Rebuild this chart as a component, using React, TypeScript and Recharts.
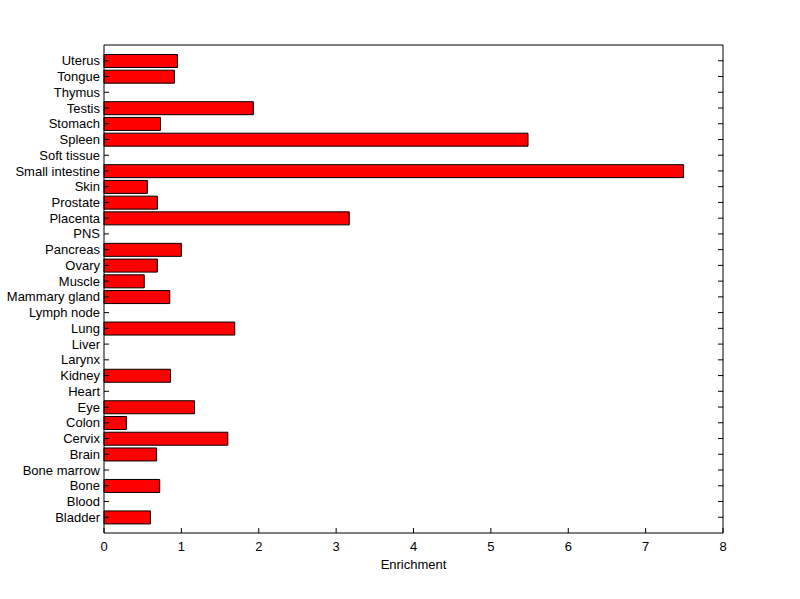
import { BarChart, Bar, XAxis, YAxis } from 'recharts';

const tissues = [
  'Uterus', 'Tongue', 'Thymus', 'Testis', 'Stomach', 'Spleen', 'Soft tissue',
  'Small intestine', 'Skin', 'Prostate', 'Placenta', 'PNS', 'Pancreas', 'Ovary',
  'Muscle', 'Mammary gland', 'Lymph node', 'Lung', 'Liver', 'Larynx', 'Kidney',
  'Heart', 'Eye', 'Colon', 'Cervix', 'Brain', 'Bone marrow', 'Bone', 'Blood', 'Bladder',
];

const enrichment = [
  0.95, 0.91, 0, 1.93, 0.73, 5.48, 0,
  7.49, 0.56, 0.69, 3.17, 0, 1.0, 0.69,
  0.52, 0.85, 0, 1.69, 0, 0, 0.86,
  0, 1.17, 0.29, 1.6, 0.68, 0, 0.72, 0, 0.6,
];

const xTicks = [0, 1, 2, 3, 4, 5, 6, 7, 8];

const data = tissues.map((name, i) => ({ name, value: enrichment[i] }));

const FONT = '"Liberation Sans", Arial, sans-serif';
const TICK = 5;
// half a category step of empty space at each end of the y axis
const Y_PAD = { top: 7.9, bottom: 7.9 };

const LeftTick = ({ x, y, payload }: any) => (
  <g>
    <line x1={x + 4} x2={x + 4 + TICK} y1={y} y2={y} stroke="#000" />
    <text x={x} y={y} dy="0.35em" textAnchor="end" fontSize={13} fontFamily={FONT} fill="#000">
      {payload.value}
    </text>
  </g>
);

const RightTick = ({ x, y }: any) => (
  <line x1={x} x2={x - TICK} y1={y} y2={y} stroke="#000" />
);

const BottomTick = ({ x, y, payload }: any) => (
  <g>
    <line x1={x} x2={x} y1={y - 9} y2={y - 9 - TICK} stroke="#000" />
    <text x={x} y={y} dy="0.71em" textAnchor="middle" fontSize={13} fontFamily={FONT} fill="#000">
      {payload.value}
    </text>
  </g>
);

const TopTick = ({ x, y }: any) => (
  <line x1={x} x2={x} y1={y} y2={y + TICK} stroke="#000" />
);

export default function App() {
  return (
    <div style={{ position: 'absolute', left: 0, top: 0, background: '#fff' }}>
      <BarChart
        width={800}
        height={599}
        data={data}
        layout="vertical"
        barCategoryGap="10%"
        margin={{ top: 44, right: 76, bottom: 26, left: 0 }}
      >
        <XAxis
          type="number"
          domain={[0, 8]}
          ticks={xTicks}
          height={40}
          stroke="#000"
          tickLine={false}
          tickSize={0}
          tickMargin={9}
          tick={<BottomTick />}
          label={{ value: 'Enrichment', position: 'insideBottom', offset: 4, fill: '#000', fontSize: 13, fontFamily: FONT }}
        />
        <XAxis
          xAxisId="top"
          orientation="top"
          type="number"
          domain={[0, 8]}
          ticks={xTicks}
          height={1}
          stroke="#000"
          tickLine={false}
          tickSize={0}
          tickMargin={0}
          tick={<TopTick />}
        />
        <YAxis
          type="category"
          dataKey="name"
          width={104}
          padding={Y_PAD}
          stroke="#000"
          tickLine={false}
          tickSize={0}
          tickMargin={4}
          interval={0}
          tick={<LeftTick />}
        />
        <YAxis
          yAxisId="right"
          orientation="right"
          type="category"
          dataKey="name"
          width={1}
          padding={Y_PAD}
          stroke="#000"
          tickLine={false}
          tickSize={0}
          tickMargin={0}
          interval={0}
          tick={<RightTick />}
        />
        <Bar dataKey="value" fill="#ff0000" stroke="#000" strokeWidth={1} isAnimationActive={false} />
      </BarChart>
    </div>
  );
}
